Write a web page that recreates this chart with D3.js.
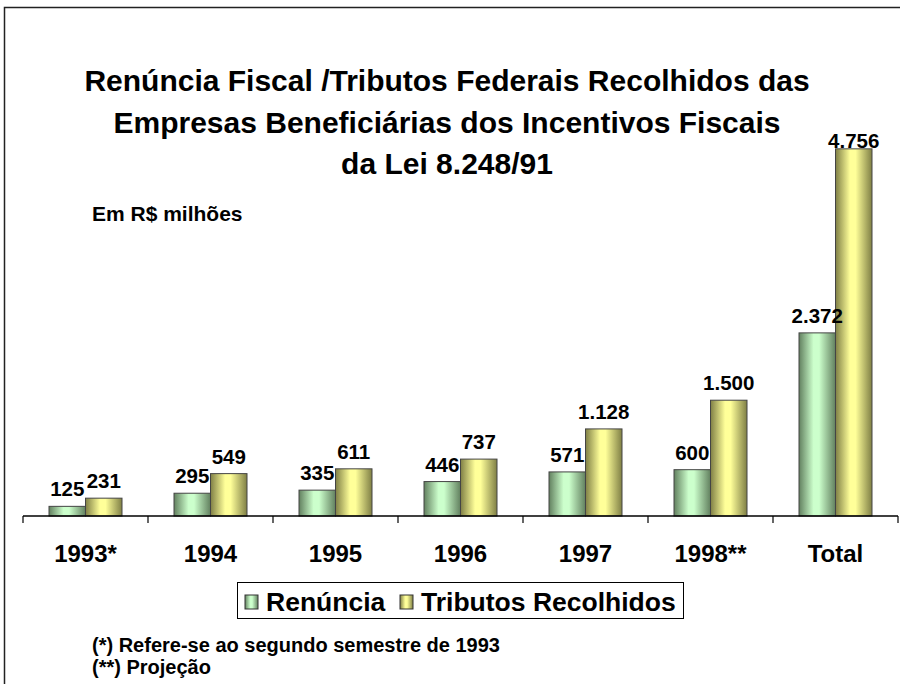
<!DOCTYPE html>
<html>
<head>
<meta charset="utf-8">
<script src="https://cdn.jsdelivr.net/npm/d3@7"></script>
<style>
  body { margin: 0; background: #fff; }
  text { font-family: Arial, "Liberation Sans", sans-serif; font-weight: bold; fill: #000; }
</style>
</head>
<body>
<div id="chart"></div>
<script>
'use strict';

const categories = ["1993*", "1994", "1995", "1996", "1997", "1998**", "Total"];
const renuncia = [125, 295, 335, 446, 571, 600, 2372];
const tributos = [231, 549, 611, 737, 1128, 1500, 4756];
const seriesNames = ["Renúncia", "Tributos Recolhidos"];
const titleLines = [
  "Renúncia Fiscal /Tributos Federais Recolhidos das",
  "Empresas Beneficiárias dos Incentivos Fiscais",
  "da Lei 8.248/91"
];
const footnotes = ["(*) Refere-se ao segundo semestre de 1993", "(**) Projeção"];

const width = 900, height = 684;

const svg = d3.select("#chart").append("svg")
  .attr("width", width)
  .attr("height", height);

// gradients for the cylinder-ish bars
const defs = svg.append("defs");
function addGradient(id, dark, light) {
  const g = defs.append("linearGradient")
    .attr("id", id)
    .attr("x1", "0%").attr("x2", "100%")
    .attr("y1", "0%").attr("y2", "0%");
  g.append("stop").attr("offset", "0%").attr("stop-color", dark);
  g.append("stop").attr("offset", "40%").attr("stop-color", light);
  g.append("stop").attr("offset", "55%").attr("stop-color", light);
  g.append("stop").attr("offset", "100%").attr("stop-color", dark);
}
addGradient("gradGreen", "#62805f", "#ccffcc");
addGradient("gradYellow", "#7f7f45", "#ffff99");
const fills = ["url(#gradGreen)", "url(#gradYellow)"];

// outer frame
svg.append("path")
  .attr("d", "M4.5," + height + " V7.5 H" + width)
  .attr("fill", "none")
  .attr("stroke", "#222")
  .attr("stroke-width", 1.5);

// title
svg.append("g").selectAll("text")
  .data(titleLines)
  .enter()
  .append("text")
  .attr("x", 447)
  .attr("y", (d, i) => 91 + i * 41.5)
  .attr("text-anchor", "middle")
  .style("font-size", "30px")
  .text(d => d);

svg.append("text")
  .attr("x", 92)
  .attr("y", 221)
  .style("font-size", "21px")
  .text("Em R$ milhões");

// scales
const x = d3.scaleBand()
  .domain(categories)
  .range([23, 898])
  .paddingInner(0)
  .paddingOuter(0);

const y = d3.scaleLinear()
  .domain([0, 5000])
  .range([516, 130]);

const barW = 36.5;
const fmt = d3.formatLocale({ decimal: ",", thousands: ".", grouping: [3], currency: ["R$", ""] }).format(",d");

const rows = categories.map((c, i) => ({ cat: c, values: [renuncia[i], tributos[i]] }));

const groups = svg.append("g").selectAll("g")
  .data(rows)
  .enter()
  .append("g")
  .attr("transform", d => "translate(" + (x(d.cat) + x.bandwidth() / 2) + ",0)");

groups.selectAll("rect")
  .data(d => d.values)
  .enter()
  .append("rect")
  .attr("x", (d, i) => (i - 1) * barW)
  .attr("y", d => y(d))
  .attr("width", barW)
  .attr("height", d => y(0) - y(d))
  .attr("fill", (d, i) => fills[i])
  .attr("stroke", "#444")
  .attr("stroke-width", 1);

// labels sit above the bar, but never above the plot top
groups.selectAll("text")
  .data(d => d.values)
  .enter()
  .append("text")
  .attr("x", (d, i) => (i - 0.5) * barW)
  .attr("y", d => Math.max(y(d) - 10, 148))
  .attr("text-anchor", "middle")
  .style("font-size", "20.5px")
  .text(d => fmt(d));

// x axis
const xAxis = svg.append("g")
  .attr("transform", "translate(0," + y(0) + ")");
xAxis.append("line")
  .attr("x1", 23).attr("x2", 898)
  .attr("stroke", "#000").attr("stroke-width", 1.5);
xAxis.selectAll(".tk")
  .data(categories.concat([null]))
  .enter()
  .append("line")
  .attr("class", "tk")
  .attr("x1", (d, i) => i < categories.length ? x(d) : x.range()[1])
  .attr("x2", (d, i) => i < categories.length ? x(d) : x.range()[1])
  .attr("y1", 0).attr("y2", 7)
  .attr("stroke", "#000").attr("stroke-width", 1.2);
xAxis.selectAll(".lbl")
  .data(categories)
  .enter()
  .append("text")
  .attr("class", "lbl")
  .attr("x", d => x(d) + x.bandwidth() / 2)
  .attr("y", 46)
  .attr("text-anchor", "middle")
  .style("font-size", "24px")
  .text(d => d);

// legend
const legend = svg.append("g");
legend.append("rect")
  .attr("x", 237.5).attr("y", 582.5)
  .attr("width", 446).attr("height", 36)
  .attr("fill", "#fff")
  .attr("stroke", "#000").attr("stroke-width", 1);
const legX = [245, 400];
seriesNames.forEach((name, i) => {
  legend.append("rect")
    .attr("x", legX[i]).attr("y", 595)
    .attr("width", 13).attr("height", 14)
    .attr("fill", fills[i])
    .attr("stroke", "#333").attr("stroke-width", 1);
  legend.append("text")
    .attr("x", legX[i] + 21)
    .attr("y", 611)
    .style("font-size", "26.5px")
    .text(name);
});

// footnotes
svg.append("g").selectAll("text")
  .data(footnotes)
  .enter()
  .append("text")
  .attr("x", 92)
  .attr("y", (d, i) => 652 + i * 22)
  .style("font-size", "20px")
  .text(d => d);
</script>
</body>
</html>
